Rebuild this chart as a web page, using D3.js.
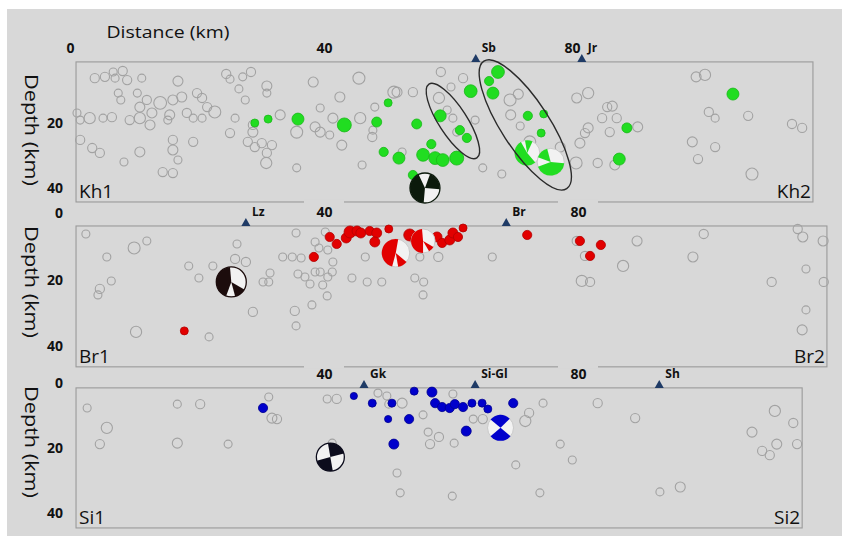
<!DOCTYPE html>
<html><head><meta charset="utf-8">
<script src="https://cdn.jsdelivr.net/npm/d3@7"></script>
<style>body{margin:0;background:#fff}svg{display:block}</style>
</head><body>
<svg id="c" width="842" height="536"></svg>
<script>
// ---------- DATA (distance km, depth km, magnitude) ----------
const khGray = [
[3.9,6.2,2.3],[5.5,5.8,2.3],[6.8,4.3,2.0],[7.1,6.2,2.0],[8.3,4.0,2.3],[9.0,6.8,2.3],[11.3,6.2,2.0],[17.0,7.1,2.5],[24.6,4.9,2.3],[25.2,6.5,2.0],[27.2,5.8,2.0],[28.5,4.3,2.3],[31.0,8.6,2.5],[31.0,10.8,2.0],[38.3,7.4,2.5],[45.5,6.2,3.0],[51.5,10.5,2.5],[51.0,10.5,3.0],[54.0,10.5,2.3],
[7.6,10.8,2.0],[8.0,12.9,2.0],[10.6,10.8,2.0],[11.0,15.1,2.5],[12.1,12.9,2.3],[14.2,13.8,3.2],[16.2,12.9,2.5],[17.6,12.0,2.5],[20.0,10.8,2.3],[20.8,12.3,2.3],[22.8,16.6,3.0],[21.6,15.1,2.3],[26.6,9.5,2.0],[27.6,12.9,2.0],[42.5,12.0,2.5],[39.4,15.4,2.0],[48.0,15.1,2.0],
[1.1,16.9,2.0],[1.6,19.1,2.0],[3.1,18.5,2.8],[5.2,18.5,2.0],[6.6,18.2,2.3],[9.4,19.1,2.3],[11.0,18.5,2.8],[12.6,20.6,2.5],[12.9,16.9,2.5],[15.7,17.5,2.5],[15.4,19.1,2.0],[18.4,16.9,2.3],[19.4,18.5,2.0],[20.8,18.5,2.0],[26.0,18.5,2.0],[25.2,23.1,2.3],[28.8,20.6,2.3],[28.8,22.8,2.5],[33.1,17.5,2.5],[35.7,22.8,3.0],[38.6,21.2,2.5],[39.4,22.8,2.5],[40.9,23.7,2.0],[41.4,18.5,2.5],[45.7,18.5,2.8],[47.7,22.2,2.0],
[1.6,25.2,2.3],[3.5,27.7,2.3],[4.7,29.2,2.3],[11.0,28.9,2.5],[16.2,25.2,2.3],[16.2,28.3,2.5],[17.0,31.4,2.0],[19.4,25.8,2.3],[8.5,32.0,2.0],[14.6,35.1,2.3],[16.2,35.4,2.3],[28.0,25.8,2.3],[29.1,27.4,2.3],[30.2,26.2,2.3],[31.8,26.8,2.3],[31.0,29.2,2.3],[30.9,32.3,2.8],[35.7,33.8,2.0],[42.8,26.8,2.5],[46.0,32.9,2.0],[47.6,24.3,2.3],
[58.4,4.3,2.3],[61.9,6.2,2.3],[60.0,8.9,2.0],[58.1,12.3,2.8],[63.8,19.1,2.0],[60.3,18.5,2.0],[59.4,16.0,2.0],[60.9,22.8,2.0],[52.3,28.9,2.0],[65.0,33.8,2.0],[68.0,35.7,2.0],[70.6,11.1,2.5],[69.3,12.9,3.0],[69.4,17.5,2.5],[70.9,20.9,2.0],[72.4,25.8,3.0],[77.2,27.4,2.5],[79.7,32.3,3.0],[83.1,32.3,2.3],[85.8,32.9,2.5],[79.8,12.3,2.5],[81.6,10.8,2.8],[84.6,15.1,2.3],[85.4,14.8,2.5],[83.8,18.5,2.3],[86.1,18.5,2.3],[81.6,21.5,2.5],[81.1,23.1,2.3],[85.0,22.8,2.3],[80.3,26.2,2.5],[89.4,21.2,2.5],[98.6,5.8,2.5],[100.0,5.2,2.8],[100.6,16.6,2.3],[101.6,18.5,2.0],[106.8,17.8,2.3],[113.7,20.3,2.3],[115.3,21.5,2.3],[98.0,25.8,2.5],[101.6,27.4,2.3],[98.9,31.1,2.3],[107.4,35.7,3.0]
];
const khGreen = [
[29.1,20.0,2.0],[31.2,18.8,2.0],[35.9,18.8,3.0],[43.2,20.6,3.5],[48.3,19.7,2.5],[50.1,13.8,2.0],[49.4,28.9,2.3],[51.8,30.8,3.0],[54.0,36.0,2.3],[54.6,20.3,2.5],[56.9,26.5,2.3],[55.6,29.8,3.2],[57.5,30.8,3.2],[58.7,31.4,3.2],[60.9,30.8,3.5],[58.3,17.8,3.0],[61.4,22.2,2.3],[62.5,24.6,2.3],[63.1,10.2,3.2],[66.0,7.1,2.3],[67.4,4.3,3.2],[66.6,10.8,3.0],[72.1,17.8,2.3],[74.6,17.2,2.0],[74.2,23.1,2.0],[87.7,21.5,2.5],[86.5,31.1,3.0],[104.4,11.1,3.0]
];
const brGray = [
[2.5,6.3,2.0],[10.1,10.5,3.0],[12.1,8.4,2.0],[5.8,13.2,2.0],[6.5,20.4,2.0],[4.7,22.8,2.3],[4.4,24.6,2.0],[18.7,15.9,2.0],[20.3,19.5,2.0],[22.5,15.9,2.0],[26.3,9.3,2.0],[26.0,13.8,2.3],[27.7,14.7,2.3],[28.8,29.7,2.3],[10.4,35.7,2.8],[21.9,37.2,2.0],[30.4,20.7,2.0],[31.3,20.7,2.0],[31.5,18.0,2.0],[33.5,13.2,2.0],[35.0,13.2,2.0],[36.4,13.5,2.0],[35.6,6.0,2.0],[35.9,18.3,2.0],[37.0,19.2,2.0],[37.8,21.3,2.0],[38.6,8.7,2.0],[39.2,10.5,2.0],[40.2,5.7,2.0],[40.6,11.1,2.0],[41.4,14.7,2.0],[38.6,17.7,2.0],[39.4,17.7,2.0],[39.8,21.6,2.0],[40.6,19.2,2.0],[41.3,17.7,2.0],[40.5,24.9,2.0],[38.1,27.6,2.0],[35.4,29.4,2.3],[35.6,33.9,2.0],[44.4,19.5,2.0],[46.8,20.7,2.0],[49.1,20.7,2.0],[46.5,13.2,2.0],[54.3,19.5,2.0],[55.7,20.7,2.0],[55.6,24.6,2.0],[55.1,13.2,2.0],[58.0,13.2,2.3],[66.5,13.2,2.0],[80.6,20.4,2.8],[81.9,20.7,2.3],[87.1,15.9,2.8],[89.3,8.4,2.5],[99.8,6.3,2.3],[98.1,13.2,2.5],[110.5,20.7,2.3],[114.6,4.8,2.3],[115.4,7.2,2.5],[118.6,8.4,2.5],[115.9,16.8,2.0],[118.7,20.7,2.3],[115.9,29.1,2.0],[115.3,35.1,2.5],[79.8,8.4,2.3],[81.1,12.9,2.3]
];
const brRed = [
[18.0,35.4,2.0],[38.4,13.2,2.3],[40.9,7.2,2.3],[42.0,9.3,2.3],[43.5,7.5,2.5],[44.1,5.7,3.0],[45.2,5.4,2.5],[45.8,6.0,2.5],[47.2,5.4,2.3],[48.3,6.0,2.5],[48.0,8.7,2.5],[50.2,4.8,2.0],[53.5,6.6,3.0],[54.6,8.1,3.0],[57.8,7.2,2.5],[58.6,9.0,2.3],[59.8,8.1,2.5],[60.3,6.0,2.5],[61.1,7.2,2.3],[61.9,4.5,2.0],[72.0,6.6,2.3],[80.3,8.4,2.3],[83.6,9.6,2.3],[81.9,12.9,2.3]
];
const siGray = [
[2.7,7.7,2.0],[5.8,13.8,2.8],[4.7,18.8,2.3],[16.9,6.5,2.0],[20.5,6.5,2.3],[16.9,18.5,2.5],[24.9,18.8,2.0],[31.3,4.3,2.0],[31.8,10.8,2.5],[32.6,11.1,2.3],[40.5,4.9,2.0],[42.0,4.9,2.3],[48.5,3.1,2.0],[49.9,4.0,2.0],[50.2,6.5,2.0],[52.3,6.2,2.5],[55.6,9.8,2.0],[56.4,15.1,2.0],[58.1,16.6,2.3],[56.7,18.8,2.3],[60.5,18.5,2.0],[60.3,3.4,2.0],[63.5,11.1,2.0],[65.0,11.1,2.3],[71.7,11.7,2.8],[72.3,9.2,2.3],[74.5,6.2,2.0],[83.1,6.2,2.3],[89.0,10.8,2.3],[77.2,18.8,2.0],[79.1,23.7,2.0],[70.2,25.2,2.0],[51.5,27.7,2.0],[52.0,33.8,2.0],[60.2,34.8,2.0],[74.0,33.8,2.0],[92.9,33.5,2.0],[96.1,32.0,2.5],[111.0,8.6,2.8],[113.9,12.3,2.3],[107.4,15.1,2.5],[111.3,18.8,2.5],[109.0,20.9,2.3],[110.2,22.2,2.3],[114.5,18.8,2.3],[41.3,18.5,2.0]
];
const siBlue = [
[30.4,7.7,2.3],[44.7,4.0,1.8],[47.6,6.2,2.0],[50.7,6.2,2.0],[54.2,2.5,2.0],[50.1,11.1,1.8],[53.4,11.1,2.3],[51.0,18.8,2.5],[57.0,2.8,2.5],[57.5,6.2,2.3],[58.6,7.4,2.3],[59.8,7.7,2.3],[60.6,6.5,2.3],[61.9,7.4,2.3],[63.3,6.2,2.0],[64.9,6.2,2.0],[65.8,8.0,2.0],[69.8,6.2,2.3],[62.4,14.8,2.5]
];
// focal mechanisms: distance, depth, size, compressional quadrants (degrees)
const khMech = [
  {dist:55.9, depth:40.0, mag:7.5, dark:true, quads:[[185,335],[20,95]]},
  {dist:72.0, depth:29.2, mag:6.3, dark:false, quads:[[140,330],[350,385]]},
  {dist:75.7, depth:32.0, mag:6.8, dark:false, quads:[[95,250],[290,345]]}
];
const brMech = [
  {dist:25.4, depth:20.7, mag:7.5, dark:true, quads:[[200,355],[120,165]]},
  {dist:51.3, depth:12.0, mag:7.0, dark:false, quads:[[195,370],[130,170]]},
  {dist:55.6, depth:8.4, mag:6.0, dark:false, quads:[[180,355],[120,150]]}
];
const siMech = [
  {dist:41.0, depth:22.8, mag:7.0, dark:true, quads:[[-10,75],[170,255]]},
  {dist:67.8, depth:13.8, mag:6.5, dark:false, quads:[[-50,45],[130,230]]}
];
const khStations = [["Sb",63.9],["Jr",80.6]];
const brStations = [["Lz",27.7],["Br",68.7]];
const siStations = [["Gk",46.3],["Si-Gl",63.8],["Sh",92.8]];
const khZones = [[60.3,19.4],[71.7,20.6]];
const distTicks = [0,40,80];
const depthTicks = [0,20,40];

// ---------- LAYOUT ----------
const svg = d3.select('#c');
const BG = '#d8d8d8';
svg.append('rect').attr('x',7).attr('y',9).attr('width',835).attr('height',527).attr('fill',BG);

const x = d3.scaleLinear().domain([0,80]).range([70,578]);
const rS = d3.scaleLinear().domain([0,1]).range([0,2]);
const FONT = "'Open Sans', 'Lato', sans-serif";

const panels = [
 {y:d3.scaleLinear().domain([0,40]).range([58,188]), fd:[0.95,117.0], fz:[1.2,44.3], gray:khGray, hits:khGreen,
  fill:'#21dd21', stroke:'#19b819', darkCol:'#0c1a0c', mech:khMech, st:khStations, xt:distTicks, yt:depthTicks.slice(1),
  names:['Kh1','Kh2'], titleY:130, lastDx:-6},
 {y:d3.scaleLinear().domain([0,40]).range([213,346.2]), fd:[0.95,119.2], fz:[3.9,46.2], gray:brGray, hits:brRed,
  fill:'#e20000', stroke:'#b30000', darkCol:'#1c0c0c', mech:brMech, st:brStations, xt:distTicks.slice(1), yt:depthTicks,
  names:['Br1','Br2'], titleY:282, lastDx:0},
 {y:d3.scaleLinear().domain([0,40]).range([383,513]), fd:[0.95,115.3], fz:[1.5,44.6], gray:siGray, hits:siBlue,
  fill:'#0000cc', stroke:'#00008f', darkCol:'#0c0c1c', mech:siMech, st:siStations, xt:distTicks.slice(1), yt:depthTicks,
  names:['Si1','Si2'], titleY:442, lastDx:0}
];

const layers = {frames:svg.append('g'), pts:svg.append('g'), top:svg.append('g'), txt:svg.append('g')};
const arc = d3.arc().innerRadius(0);

panels.forEach((p,i)=>{
  const y = p.y;
  const L=x(p.fd[0]), R=x(p.fd[1]), T=y(p.fz[0]), B=y(p.fz[1]);
  layers.frames.append('rect').attr('x',L).attr('y',T).attr('width',R-L).attr('height',B-T)
    .attr('fill','none').attr('stroke','#9a9a9a').attr('stroke-width',1.1);

  const g = layers.pts.append('g');
  g.selectAll('circle.g').data(p.gray).join('circle')
    .attr('cx',d=>x(d[0])).attr('cy',d=>y(d[1])).attr('r',d=>rS(d[2]))
    .attr('fill','none').attr('stroke','#a2a2a2').attr('stroke-width',1.1);
  g.selectAll('circle.h').data(p.hits).join('circle')
    .attr('cx',d=>x(d[0])).attr('cy',d=>y(d[1])).attr('r',d=>rS(d[2]))
    .attr('fill',p.fill).attr('stroke',p.stroke).attr('stroke-width',0.8);

  // focal mechanisms
  p.mech.forEach(m=>{
    const r = rS(m.mag), col = m.dark ? p.darkCol : p.fill;
    const mg = layers.top.append('g').attr('transform',`translate(${x(m.dist)},${y(m.depth)})`);
    mg.append('circle').attr('r',r).attr('fill','#f2f2f2')
      .attr('stroke', m.dark ? p.darkCol : '#c9c9c9').attr('stroke-width', m.dark?1.3:1);
    m.quads.forEach(q=>{
      mg.append('path').attr('d',arc.outerRadius(r)({startAngle:q[0]*Math.PI/180,endAngle:q[1]*Math.PI/180}))
        .attr('fill',col);
    });
  });

  // stations
  p.st.forEach(s=>{
    const sx = x(s[1]);
    layers.top.append('path').attr('d',`M${sx-4.5},${T}L${sx+4.5},${T}L${sx},${T-8}Z`).attr('fill','#1f3b66');
    layers.txt.append('text').attr('x',sx+6).attr('y',T-10).text(s[0])
      .attr('font-family',FONT).attr('font-weight',700).attr('font-size',12).attr('fill','#111');
  });

  // distance axis labels (top)
  const prevB = i>0 ? panels[i-1].y(panels[i-1].fz[1]) : null;
  if(prevB!==null){
    p.xt.forEach(t=>{
      layers.txt.append('rect').attr('x',x(t)-20).attr('y',prevB-2).attr('width',40).attr('height',4).attr('fill',BG);
    });
  }
  const ax = layers.txt.append('g').attr('transform',`translate(0,${T-9})`)
    .call(d3.axisTop(x).tickValues(p.xt).tickSize(0).tickPadding(0).tickFormat(d3.format('d')));
  ax.select('.domain').remove();
  ax.selectAll('text').attr('font-family',FONT).attr('font-weight',700).attr('font-size',14).attr('fill','#111')
    .attr('dx',d=> d===80 ? p.lastDx : 0);

  // depth axis labels
  const ay = layers.txt.append('g').attr('transform','translate(63,0)')
    .call(d3.axisLeft(y).tickValues(p.yt).tickSize(0).tickPadding(0).tickFormat(d3.format('d')));
  ay.select('.domain').remove();
  ay.selectAll('text').attr('font-family',FONT).attr('font-weight',700).attr('font-size',14).attr('fill','#111');

  // depth title
  layers.txt.append('text').attr('transform',`translate(32,${p.titleY}) rotate(90)`)
    .attr('text-anchor','middle').attr('dominant-baseline','central')
    .attr('font-family',FONT).attr('font-size',18).attr('fill','#111')
    .attr('textLength',112).attr('lengthAdjust','spacingAndGlyphs').text('Depth (km)');

  // panel end labels
  layers.txt.append('text').attr('x',L+3).attr('y',B-4).text(p.names[0])
    .attr('font-family',FONT).attr('font-size',19).attr('fill','#111');
  layers.txt.append('text').attr('x',R-2).attr('y',B-4).attr('text-anchor','end').text(p.names[1])
    .attr('font-family',FONT).attr('font-size',19).attr('fill','#111');
});

// ellipses around the clusters in Kh
const ky = panels[0].y;
const zoneSize = [[44,14],[76,24]];
khZones.forEach((z,i)=>{
  layers.top.append('ellipse').attr('cx',0).attr('cy',0).attr('rx',zoneSize[i][0]).attr('ry',zoneSize[i][1])
    .attr('transform',`translate(${x(z[0])},${ky(z[1])}) rotate(57)`)
    .attr('fill','none').attr('stroke','#2a2a2a').attr('stroke-width',1.4);
});

// main distance title
layers.txt.append('text').attr('x',168).attr('y',38).attr('text-anchor','middle')
  .attr('font-family',FONT).attr('font-size',17).attr('fill','#111')
  .attr('textLength',123).attr('lengthAdjust','spacingAndGlyphs').text('Distance (km)');
</script>
</body></html>
